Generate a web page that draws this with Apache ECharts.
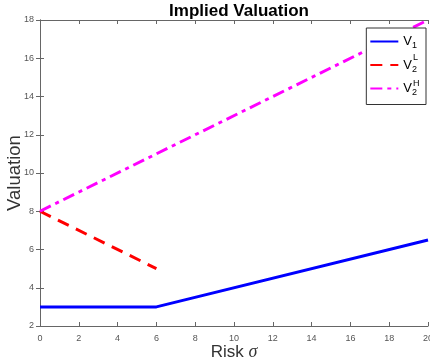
<!DOCTYPE html>
<html>
<head>
<meta charset="utf-8">
<script src="https://cdn.jsdelivr.net/npm/echarts@6/dist/echarts.min.js"></script>
<style>
  html, body { margin: 0; padding: 0; background: #fff; }
  #chart { width: 430px; height: 362px; }
</style>
</head>
<body>
<div id="chart"></div>
<script>
// chart data
const v1 = [[0, 3], [6, 3], [20, 6.5]]
const v2L = [[0, 8], [6, 5]]
const v2H = [[0, 8], [20, 18]]
const seriesNames = ['V1', 'V2L', 'V2H']

const axisColor = '#666'
const tickFont = { fontFamily: 'Liberation Sans', fontSize: 9, color: '#555' }
const textFont = { fontFamily: 'Liberation Sans', fontSize: 9, fill: '#000' }

const chart = echarts.init(document.getElementById('chart'))

const option = {
  animation: false,
  title: {
    text: 'Implied Valuation',
    left: 234,
    textAlign: 'center',
    top: -2,
    textStyle: { fontFamily: 'Liberation Sans', fontSize: 17, fontWeight: 'bold', color: '#000' }
  },
  grid: { left: 40, right: 2, top: 20, bottom: 36, outerBoundsMode: 'none', containLabel: false },
  legend: {
    data: seriesNames,
    orient: 'vertical',
    right: 4,
    top: 28,
    itemWidth: 28,
    itemHeight: 10,
    itemGap: 8,
    padding: [7, 9, 7, 3],
    backgroundColor: '#fff',
    borderColor: '#333',
    borderWidth: 1,
    borderRadius: 0,
    itemStyle: { opacity: 0 },
    formatter: function (name) {
      return '{v|V}{s|' + name.charAt(1) + '}'
    },
    textStyle: {
      rich: {
        v: { fontFamily: 'Liberation Sans', fontSize: 13, color: '#000' },
        s: { fontFamily: 'Liberation Sans', fontSize: 9, color: '#000', padding: [9, 0, 0, 0] }
      }
    }
  },
  // superscripts of the legend labels (V2 low / high)
  graphic: [
    { type: 'text', left: 413, top: 53, z: 100, style: Object.assign({ text: 'L' }, textFont) },
    { type: 'text', left: 413, top: 79, z: 100, style: Object.assign({ text: 'H' }, textFont) }
  ],
  xAxis: [{
    type: 'value', min: 0, max: 20, interval: 2,
    name: 'Risk {i|σ}', nameLocation: 'middle', nameGap: 17, nameMoveOverlap: false,
    nameTextStyle: {
      fontFamily: 'Liberation Sans', fontSize: 17, color: '#333',
      rich: { i: { fontFamily: 'Liberation Serif', fontStyle: 'italic', fontSize: 18, color: '#333' } }
    },
    axisLine: { lineStyle: { color: axisColor } },
    axisTick: { inside: true, length: 4, lineStyle: { color: axisColor } },
    axisLabel: tickFont,
    splitLine: { show: false }
  }, {
    type: 'value', min: 0, max: 20, interval: 2, position: 'top',
    axisLine: { show: true, lineStyle: { color: axisColor } },
    axisTick: { inside: true, length: 4, lineStyle: { color: axisColor } },
    axisLabel: { show: false },
    splitLine: { show: false }
  }],
  yAxis: [{
    type: 'value', min: 2, max: 18, interval: 2,
    name: 'Valuation', nameLocation: 'middle', nameGap: 16, nameMoveOverlap: false,
    nameTextStyle: { fontFamily: 'Liberation Sans', fontSize: 18.5, color: '#333' },
    axisLine: { show: true, lineStyle: { color: axisColor } },
    axisTick: { show: true, inside: true, length: 4, lineStyle: { color: axisColor } },
    axisLabel: Object.assign({ margin: 6 }, tickFont),
    splitLine: { show: false }
  }, {
    type: 'value', min: 2, max: 18, interval: 2, position: 'right',
    axisLine: { show: true, lineStyle: { color: axisColor } },
    axisTick: { show: true, inside: true, length: 4, lineStyle: { color: axisColor } },
    axisLabel: { show: false },
    splitLine: { show: false }
  }],
  series: [{
    name: 'V1', type: 'line', data: v1, symbol: 'none',
    lineStyle: { color: '#0000ff', width: 3 }, itemStyle: { color: '#0000ff' }
  }, {
    name: 'V2L', type: 'line', data: v2L, symbol: 'none',
    lineStyle: { color: '#ff0000', width: 3, type: [12, 8] }, itemStyle: { color: '#ff0000' }
  }, {
    name: 'V2H', type: 'line', data: v2H, symbol: 'none',
    lineStyle: { color: '#ff00ff', width: 3, type: [12, 5, 4, 5] }, itemStyle: { color: '#ff00ff' }
  }]
}

chart.setOption(option)
</script>
</body>
</html>
